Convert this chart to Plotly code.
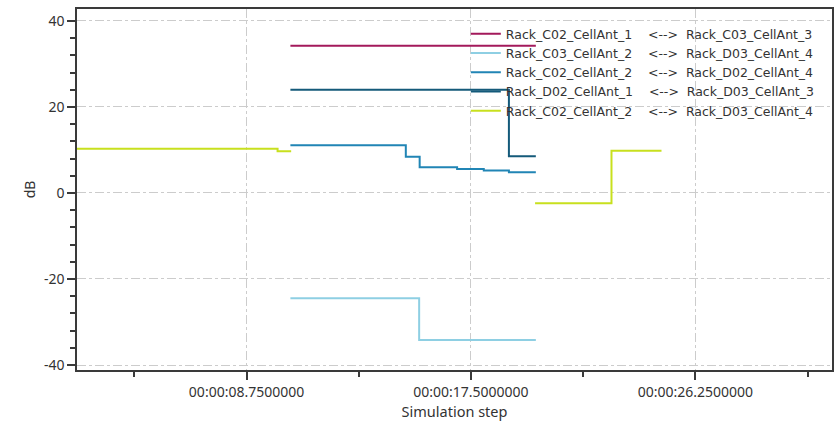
import plotly.graph_objects as go

# ---- data (seconds, dB) ----
SEP = "\u00a0\u00a0\u00a0\u00a0<-->\u00a0\u00a0"
s1_name = "Rack_C02_CellAnt_1" + SEP + "Rack_C03_CellAnt_3"
s1_x = [10.46, 20.03]
s1_y = [34.2, 34.2]

s2_name = "Rack_C03_CellAnt_2" + SEP + "Rack_D03_CellAnt_4"
s2_x = [10.46, 15.48, 20.03]
s2_y = [-24.5, -34.2, -34.2]

s3_name = "Rack_C02_CellAnt_2" + SEP + "Rack_D02_CellAnt_4"
s3_x = [10.46, 14.96, 15.50, 16.96, 18.00, 18.98, 20.03]
s3_y = [11.1, 8.4, 6.0, 5.6, 5.25, 4.8, 4.8]

s4_name = "Rack_D02_CellAnt_1" + SEP + "Rack_D03_CellAnt_3"
s4_x = [10.46, 18.98, 20.03]
s4_y = [24.0, 8.55, 8.55]

s5_name = "Rack_C02_CellAnt_2" + SEP + "Rack_D03_CellAnt_4"
s5_x = [2.0, 9.96, 10.49, None, 20.00, 22.98, 24.93]
s5_y = [10.3, 9.7, 9.7, None, -2.4, 9.8, 9.8]

colors = ["#a3195b", "#8ecfe3", "#2185b5", "#145a7a", "#c8e01e"]

x_tick_vals = [8.75, 17.5, 26.25]
x_tick_text = ["00:00:08.7500000", "00:00:17.5000000", "00:00:26.2500000"]
y_tick_vals = [-40, -20, 0, 20, 40]
y_tick_text = ["-40", "-20", "0", "20", "40"]

fig = go.Figure()
series = [(s1_name, s1_x, s1_y), (s2_name, s2_x, s2_y), (s3_name, s3_x, s3_y),
          (s4_name, s4_x, s4_y), (s5_name, s5_x, s5_y)]
for (name, xs, ys), c in zip(series, colors):
    fig.add_trace(go.Scatter(x=xs, y=ys, name=name, mode="lines",
                             line=dict(color=c, width=2, shape="hv"),
                             connectgaps=False))

font_family = "Noto Sans, Open Sans, sans-serif"
axis_common = dict(showline=True, linecolor="#3a3a3a", linewidth=1.5, mirror=True,
                   ticks="outside", ticklen=8, tickcolor="#3a3a3a", tickwidth=1.5,
                   showgrid=True, gridcolor="#cccccc", griddash="dashdot", gridwidth=1,
                   zeroline=False, tickfont=dict(size=14, color="#333", family=font_family))

fig.update_layout(
    width=840, height=422,
    margin=dict(l=77, r=6, t=9, b=50),
    paper_bgcolor="white", plot_bgcolor="white",
    font=dict(family=font_family, color="#333", size=12),
    xaxis=dict(range=[2.139, 31.578], tickmode="array", tickvals=x_tick_vals, ticktext=x_tick_text,
               minor=dict(tick0=0, dtick=4.375, ticks="outside", ticklen=5, tickcolor="#3a3a3a",
                          showgrid=False),
               title=dict(text="Simulation step", font=dict(size=14.5, family=font_family), standoff=5),
               **axis_common),
    yaxis=dict(range=[-41.16, 42.77], tickmode="array", tickvals=y_tick_vals, ticktext=y_tick_text,
               minor=dict(tick0=0, dtick=4, ticks="outside", ticklen=5, tickcolor="#3a3a3a",
                          showgrid=False),
               title=dict(text="dB", font=dict(size=14, family=font_family), standoff=5),
               **axis_common),
    legend=dict(x=0.515, y=0.972, xanchor="left", yanchor="top",
                bgcolor="rgba(0,0,0,0)",
                font=dict(size=12.5, color="#333", family="DejaVu Sans, Noto Sans, sans-serif"),
                tracegroupgap=0, itemwidth=30),
    showlegend=True,
)

fig.write_html("out.html")
